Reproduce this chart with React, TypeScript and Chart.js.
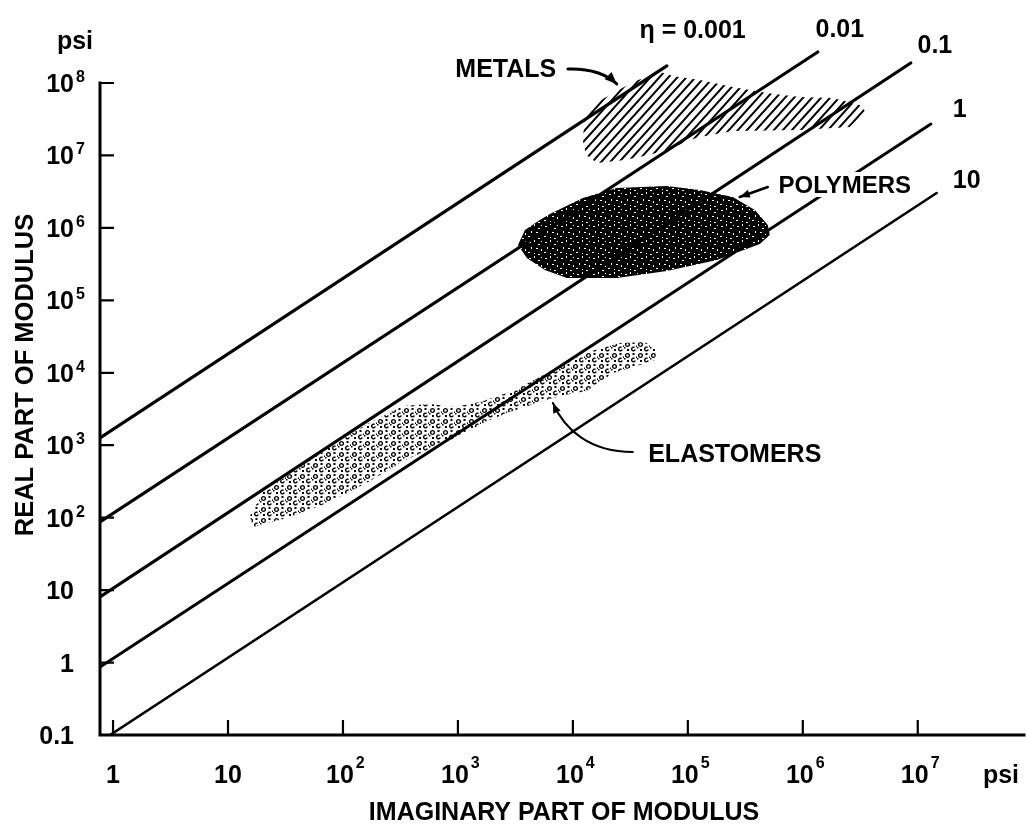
import React, { useEffect, useRef } from 'react';
import { Chart, registerables } from 'chart.js';

Chart.register(...registerables);

// ---------- axes (psi, log-log) ----------
const xRange = [0.77, 8.4e7];
const yRange = [0.1, 5.39e8];
const xTickValues = [1, 10, 100, 1e3, 1e4, 1e5, 1e6, 1e7];
const xTickBases = ['1', '10', '10', '10', '10', '10', '10', '10'];
const xTickExps = ['', '', '2', '3', '4', '5', '6', '7'];
const yTickValues = [0.1, 1, 10, 100, 1e3, 1e4, 1e5, 1e6, 1e7, 1e8];
const yTickBases = ['0.1', '1', '10', '10', '10', '10', '10', '10', '10', '10'];
const yTickExps = ['', '', '', '2', '3', '4', '5', '6', '7', '8'];
const xTitle = 'IMAGINARY PART OF MODULUS';
const yTitle = 'REAL PART OF MODULUS';
const unitLabel = 'psi';

// ---------- constant loss-factor lines: [imaginary, real] end points ----------
const lossFactors = ['0.001', '0.01', '0.1', '1', '10'];
const lossFactorLabels = ['η = 0.001', '0.01', '0.1', '1', '10'];
const eta0001 = [[0.77, 1.26e3], [6.56e4, 1.72e8]];
const eta001 = [[0.77, 87.1], [1.35e6, 2.68e8]];
const eta01 = [[0.77, 8.04], [8.69e6, 1.89e8]];
const eta1 = [[0.77, 0.868], [1.3e7, 2.72e7]];
const eta10 = [[0.942, 0.1], [1.46e7, 3.03e6]];
const lossFactorLabelAt = [[1.1e5, 4.19e8], [2.1e6, 4.32e8], [1.41e7, 2.6e8], [2.32e7, 3.4e7], [2.67e7, 3.56e6]];

// ---------- material regions: outlines [imaginary, real] ----------
const materialNames = ['METALS', 'POLYMERS', 'ELASTOMERS'];
const metalsOutline = [
  [1.22e4, 1.64e7], [1.27e4, 3.29e7], [1.46e4, 4.98e7], [2.1e4, 6.84e7], [3.32e4, 1.03e8],
  [5.71e4, 1.42e8], [7.41e4, 1.25e8], [1.27e5, 1.1e8], [2.46e5, 8.81e7], [4.86e5, 7.28e7],
  [9.42e5, 6.41e7], [1.82e6, 6.21e7], [3.13e6, 4.98e7], [3.53e6, 3.98e7], [2.56e6, 2.47e7],
  [9.42e5, 2.25e7], [2.46e5, 2.18e7], [1.27e5, 1.8e7], [9.8e4, 1.58e7], [7.41e4, 1.27e7],
  [4.67e4, 1.02e7], [2.83e4, 8.67e6], [1.62e4, 7.87e6], [1.3e4, 1.02e7],
];
const polymersOutline = [
  [3.33e3, 5.81e5], [3.83e3, 9.35e5], [5.16e3, 1.29e6], [6.31e3, 1.56e6], [1.22e4, 2.59e6],
  [2.41e4, 3.56e6], [6.56e4, 3.79e6], [1.27e5, 3.34e6], [2.46e5, 2.67e6], [3.83e5, 1.77e6],
  [4.96e5, 1.1e6], [5.16e5, 7.98e5], [4.23e5, 6.0e5], [1.79e5, 3.61e5], [6.56e4, 2.54e5],
  [2.41e4, 2.04e5], [8.87e3, 2.04e5], [5.71e3, 2.62e5], [3.98e3, 3.85e5],
];
const elastomersOutline = [
  [15.5, 105], [20.2, 226], [39.8, 470], [77.1, 946], [162, 1.96e3], [333, 3.48e3],
  [571, 3.71e3], [942, 3.37e3], [1.55e3, 3.95e3], [2.83e3, 5.43e3], [5.16e3, 8.75e3],
  [9.42e3, 1.5e4], [1.55e4, 2.06e4], [2.56e4, 2.58e4], [4.23e4, 2.66e4], [5.37e4, 2.06e4],
  [5.16e4, 1.5e4], [3.6e4, 1.24e4], [2.23e4, 9.93e3], [1.32e4, 5.61e3], [9.42e3, 5.1e3],
  [6.7e3, 4.49e3], [4.86e3, 3.83e3], [2.83e3, 2.88e3], [1.79e3, 2.16e3], [1.04e3, 1.34e3],
  [606, 916], [333, 606], [172, 321], [77.1, 165], [32.6, 99], [16.5, 74.3],
];
const materialLabelAt = [[2.61e3, 1.21e8], [2.32e6, 3.03e6], [2.56e5, 587]];
const metalsArrow = [[9.05e3, 1.56e8], [1.72e4, 1.61e8], [2.41e4, 9.7e7]];
const polymersArrow = [[4.96e5, 3.67e6], [2.83e5, 2.67e6]];
const elastomersArrow = [[3.32e4, 807], [1.41e4, 807], [8.52e3, 1.62e3], [6.7e3, 3.83e3]];

const FONT = '"Liberation Sans", Arial, Helvetica, sans-serif';
const toPoints = (arr: number[][]) => arr.map(([x, y]) => ({ x, y }));

function makeHatch() {
  const c = document.createElement('canvas');
  c.width = 9; c.height = 10;
  const g = c.getContext('2d')!;
  g.strokeStyle = '#000';
  g.lineWidth = 2;
  g.beginPath();
  g.moveTo(-9, 10); g.lineTo(9, -10);
  g.moveTo(-9, 20); g.lineTo(18, -10);
  g.moveTo(0, 20); g.lineTo(18, 0);
  g.stroke();
  return g.createPattern(c, 'repeat');
}

function makeSpeckle() {
  const c = document.createElement('canvas');
  c.width = 16; c.height = 16;
  const g = c.getContext('2d')!;
  g.fillStyle = '#000'; g.fillRect(0, 0, 16, 16);
  g.fillStyle = '#fff';
  const specks = [[1, 2, 2, 1], [6, 0, 1, 2], [10, 4, 2, 1], [13, 1, 1, 1], [3, 7, 1, 2], [8, 8, 2, 1],
    [13, 9, 1, 2], [0, 12, 2, 1], [6, 13, 1, 1], [10, 14, 2, 1]];
  specks.forEach(([x, y, w, h]) => g.fillRect(x, y, w, h));
  return g.createPattern(c, 'repeat');
}

function makeStipple() {
  const c = document.createElement('canvas');
  c.width = 13; c.height = 11;
  const g = c.getContext('2d')!;
  g.strokeStyle = '#000'; g.fillStyle = '#000'; g.lineWidth = 1.4;
  g.beginPath(); g.arc(3.5, 3.5, 1.9, 0, Math.PI * 2); g.stroke();
  g.beginPath(); g.arc(9.5, 8, 1.8, 0.3, Math.PI * 1.7); g.stroke();
  g.fillRect(8.5, 1, 2, 2);
  g.fillRect(3, 8, 2, 2);
  g.fillRect(0, 6, 1.5, 1.5);
  g.fillRect(12, 4.5, 1, 1.5);
  return g.createPattern(c, 'repeat');
}

function arrowHead(ctx: CanvasRenderingContext2D, fx: number, fy: number, tx: number, ty: number, len: number, half: number) {
  const a = Math.atan2(ty - fy, tx - fx);
  const c = Math.cos(a), s = Math.sin(a);
  ctx.beginPath();
  ctx.moveTo(tx, ty);
  ctx.lineTo(tx - len * c + half * s, ty - len * s - half * c);
  ctx.lineTo(tx - len * c - half * s, ty - len * s + half * c);
  ctx.closePath();
  ctx.fill();
}

const decorPlugin = {
  id: 'viscoDecor',
  afterDraw(chart: any) {
    const { ctx, chartArea } = chart;
    const xs = chart.scales.x, ys = chart.scales.y;
    const px = (v: number) => xs.getPixelForValue(v);
    const py = (v: number) => ys.getPixelForValue(v);
    const left = chartArea.left, bottom = chartArea.bottom, right = chartArea.right;
    const top = py(yTickValues[yTickValues.length - 1]);
    const big = `bold 25px ${FONT}`;
    const small = `bold 16px ${FONT}`;
    ctx.save();
    ctx.strokeStyle = '#000';
    ctx.fillStyle = '#000';
    ctx.textBaseline = 'alphabetic';

    // axis lines
    ctx.lineWidth = 3;
    ctx.lineCap = 'square';
    ctx.beginPath();
    ctx.moveTo(left, top); ctx.lineTo(left, bottom); ctx.lineTo(right, bottom);
    ctx.stroke();

    // inward tick marks
    ctx.lineWidth = 2.2;
    ctx.lineCap = 'butt';
    ctx.beginPath();
    yTickValues.forEach((v) => {
      if (v === yRange[0]) return;
      const y = py(v);
      ctx.moveTo(left, y); ctx.lineTo(left + 14, y);
    });
    xTickValues.forEach((v) => {
      const x = px(v);
      ctx.moveTo(x, bottom); ctx.lineTo(x, bottom - 15);
    });
    ctx.stroke();

    // y tick labels
    yTickValues.forEach((v, i) => {
      const y = py(v);
      ctx.font = big; ctx.textAlign = 'right';
      ctx.fillText(yTickBases[i], left - 26, y + 9);
      if (yTickExps[i]) {
        ctx.font = small; ctx.textAlign = 'left';
        ctx.fillText(yTickExps[i], left - 24, y - 1);
      }
    });
    // x tick labels
    xTickValues.forEach((v, i) => {
      const x = px(v);
      ctx.font = big; ctx.textAlign = 'center';
      const bx = xTickExps[i] ? x - 3 : x;
      ctx.fillText(xTickBases[i], bx, bottom + 48);
      if (xTickExps[i]) {
        const w = ctx.measureText(xTickBases[i]).width;
        ctx.font = small; ctx.textAlign = 'left';
        ctx.fillText(xTickExps[i], bx + w / 2 + 2, bottom + 33);
      }
    });

    // units
    ctx.font = big; ctx.textAlign = 'center';
    ctx.fillText(unitLabel, left - 25, top - 34);
    ctx.fillText(unitLabel, right - 23, bottom + 48);

    // axis titles
    ctx.font = big; ctx.textAlign = 'center';
    ctx.fillText(xTitle, 564, bottom + 85);
    ctx.save();
    ctx.translate(33, 375);
    ctx.rotate(-Math.PI / 2);
    ctx.font = `bold 25.5px ${FONT}`;
    ctx.fillText(yTitle, 0, 0);
    ctx.restore();

    // loss factor labels
    ctx.font = big; ctx.textAlign = 'center';
    lossFactorLabels.forEach((t, i) => {
      const [vx, vy] = lossFactorLabelAt[i];
      ctx.fillText(t, px(vx), py(vy));
    });

    // material labels
    materialNames.forEach((t, i) => {
      const [vx, vy] = materialLabelAt[i];
      const x = px(vx), y = py(vy);
      ctx.font = t === 'POLYMERS' ? `bold 24px ${FONT}` : big;
      ctx.textAlign = 'center';
      if (t === 'POLYMERS') {
        const w = ctx.measureText(t).width;
        ctx.fillStyle = '#fff';
        ctx.fillRect(x - w / 2 - 4, y - 21, w + 8, 25);
        ctx.fillStyle = '#000';
      }
      ctx.fillText(t, x, y);
    });

    // arrows
    ctx.lineCap = 'round';
    {
      const [a, b, c] = metalsArrow.map(([vx, vy]) => [px(vx), py(vy)]);
      ctx.lineWidth = 3;
      ctx.beginPath(); ctx.moveTo(a[0], a[1]); ctx.quadraticCurveTo(b[0], b[1], c[0], c[1]); ctx.stroke();
      arrowHead(ctx, b[0], b[1], c[0], c[1], 12, 5);
    }
    {
      const [a, b] = polymersArrow.map(([vx, vy]) => [px(vx), py(vy)]);
      ctx.lineWidth = 2.5;
      ctx.beginPath(); ctx.moveTo(a[0], a[1]); ctx.lineTo(b[0], b[1]); ctx.stroke();
      arrowHead(ctx, a[0], a[1], b[0], b[1], 10, 4);
    }
    {
      const [a, b, c, d] = elastomersArrow.map(([vx, vy]) => [px(vx), py(vy)]);
      ctx.lineWidth = 2;
      ctx.beginPath(); ctx.moveTo(a[0], a[1]); ctx.bezierCurveTo(b[0], b[1], c[0], c[1], d[0], d[1]); ctx.stroke();
      arrowHead(ctx, c[0], c[1], d[0], d[1], 10, 4);
    }
    ctx.restore();
  },
};

export default function App() {
  const ref = useRef<HTMLCanvasElement>(null);
  useEffect(() => {
    const canvas = ref.current;
    if (!canvas) return;
    const hatch = makeHatch();
    const speckle = makeSpeckle();
    const stipple = makeStipple();
    const lineSets = [eta0001, eta001, eta01, eta1, eta10];
    const lineWidths = [3.2, 3.2, 3.2, 3, 2.6];
    const regionSets = [metalsOutline, polymersOutline, elastomersOutline];
    const regionFills = [hatch, speckle, stipple];

    const chart = new Chart(canvas, {
      type: 'scatter',
      data: {
        datasets: [
          ...lineSets.map((s, i) => ({
            label: 'η = ' + lossFactors[i],
            data: toPoints(s),
            showLine: true,
            borderColor: '#000',
            borderWidth: lineWidths[i],
            borderCapStyle: 'round',
            pointRadius: 0,
            fill: false,
          })),
          ...regionSets.map((s, i) => ({
            label: materialNames[i],
            data: toPoints(s),
            showLine: true,
            borderWidth: 0,
            borderColor: 'rgba(0,0,0,0)',
            pointRadius: 0,
            fill: 'shape',
            backgroundColor: regionFills[i],
          })),
        ],
      } as any,
      options: {
        animation: false,
        responsive: false,
        devicePixelRatio: 1,
        events: [],
        layout: { autoPadding: false, padding: { top: 30, left: 0, right: 2, bottom: 0 } },
        plugins: { legend: { display: false }, tooltip: { enabled: false } },
        scales: {
          x: {
            type: 'logarithmic',
            min: xRange[0],
            max: xRange[1],
            bounds: 'data',
            grid: { display: false },
            border: { display: false },
            ticks: { display: false },
            afterBuildTicks: (s: any) => { s.ticks = xTickValues.map((v) => ({ value: v })); },
            afterFit: (s: any) => { s.height = 89; },
          },
          y: {
            type: 'logarithmic',
            min: yRange[0],
            max: yRange[1],
            bounds: 'data',
            grid: { display: false },
            border: { display: false },
            ticks: { display: false },
            afterBuildTicks: (s: any) => { s.ticks = yTickValues.map((v) => ({ value: v })); },
            afterFit: (s: any) => { s.width = 100; },
          },
        },
      } as any,
      plugins: [decorPlugin],
    });
    return () => chart.destroy();
  }, []);

  return (
    <div style={{ position: 'absolute', left: 0, top: 0, width: 1026, height: 824, background: '#fff' }}>
      <canvas ref={ref} width={1026} height={824} style={{ display: 'block', width: 1026, height: 824 }} />
    </div>
  );
}
